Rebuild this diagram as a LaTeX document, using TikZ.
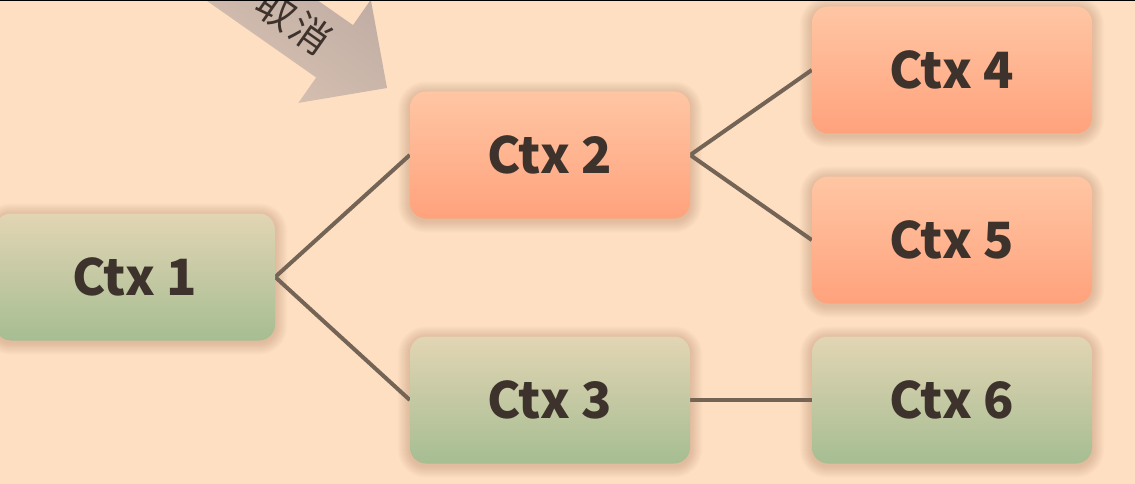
\documentclass[tikz,border=0pt]{standalone}
\usepackage{fontspec}
\setmainfont{Noto Sans CJK SC}
\definecolor{bg}{HTML}{FFDFC2}
\definecolor{or1}{HTML}{FFC6A4}
\definecolor{or2}{HTML}{FFA27C}
\definecolor{gr1}{HTML}{E2D5B4}
\definecolor{gr2}{HTML}{A6BD92}
\definecolor{txt}{HTML}{3D332C}
\definecolor{edge}{HTML}{736455}
\definecolor{ar1}{HTML}{B8A59E}
\definecolor{ar2}{HTML}{DCC6B5}
\definecolor{shad}{HTML}{8A5A3A}
\pgfdeclarelayer{bgfill}
\pgfdeclarelayer{background}
\pgfsetlayers{bgfill,background,main}
\tikzset{
  ctxbox/.style={rounded corners=16pt, minimum width=280pt, minimum height=127pt,
    text=txt, font=\bfseries\fontsize{50}{56}\selectfont, inner sep=0pt},
  orbox/.style={ctxbox, top color=or1, bottom color=or2},
  grbox/.style={ctxbox, top color=gr1, bottom color=gr2},
  link/.style={draw=edge, line width=4pt}
}
\begin{document}
\begin{tikzpicture}[x=1pt,y=-1pt]
\useasboundingbox (0,0) rectangle (1135,484);
\clip (0,0) rectangle (1135,484);
\begin{pgfonlayer}{bgfill}
\fill[bg] (0,0) rectangle (1135,484);
\end{pgfonlayer}
% nodes
\node[grbox] (c1) at (135,277) {Ctx 1};
\node[orbox] (c2) at (550,155) {Ctx 2};
\node[grbox] (c3) at (550,400) {Ctx 3};
\node[orbox] (c4) at (952,70) {Ctx 4};
\node[orbox] (c5) at (952,240) {Ctx 5};
\node[grbox] (c6) at (952,400) {Ctx 6};
% soft shadows
\begin{pgfonlayer}{background}
\foreach \n in {c1,c2,c3,c4,c5,c6}{
  \foreach \r in {1,...,12}{
    \fill[shad, opacity=0.02, rounded corners={16+\r}]
      ([shift={(-\r,-\r+2)}]\n.north west) rectangle ([shift={(\r,\r+2)}]\n.south east);
  }
}
% cancel arrow
\shade[left color=ar1, right color=ar2, shading angle=-35]
  (122.9,-58) -- (316.2,77.5) -- (298.4,102.9) -- (387,88) -- (370.8,-0.3)
  -- (353,25.1) -- (159.7,-110.4) -- cycle;
\end{pgfonlayer}
\node[rotate=-35, text=txt, font=\fontsize{39}{41}\selectfont, inner sep=0pt] (cancel) at (294,22) {取\hspace{3pt}消};
% links
\begin{pgfonlayer}{background}
\draw[link] (c2.west) -- (c1.east) -- (c3.west);
\draw[link] (c4.west) -- (c2.east) -- (c5.west);
\draw[link] (c3.east) -- (c6.west);
\end{pgfonlayer}
% top rule
\fill[black] (0,0) rectangle (1135,1.5);
\end{tikzpicture}
\end{document}
